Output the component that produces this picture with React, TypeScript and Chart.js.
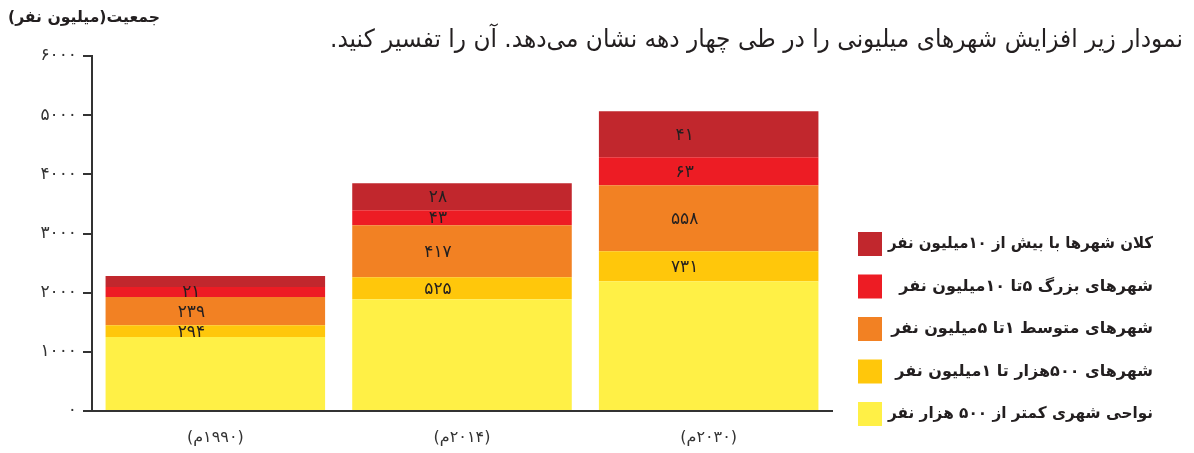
import { useEffect, useRef } from 'react';
import { Chart, registerables } from 'chart.js';

Chart.register(...registerables);

// ---- data ----
const years = ['1990', '2014', '2030'];
const seriesNames = [
  'نواحی شهری کمتر از ۵۰۰ هزار نفر',
  'شهرهای ۵۰۰هزار تا ۱میلیون نفر',
  'شهرهای متوسط ۱تا ۵میلیون نفر',
  'شهرهای بزرگ ۵تا ۱۰میلیون نفر',
  'کلان شهرها با بیش از ۱۰میلیون نفر',
];
const seriesColors = ['#FFF046', '#FFC70B', '#F28123', '#ED1C24', '#C1272D'];
// population (million) per size class
const popSmall = [1250, 1890, 2195];
const popMid = [200, 370, 505];
const popMedium = [475, 880, 1115];
const popLarge = [170, 255, 475];
const popMega = [185, 455, 775];
// number of cities shown inside bars
const countSmall: (number | null)[] = [null, null, null];
const countMid: (number | null)[] = [294, 525, 731];
const countMedium: (number | null)[] = [239, 417, 558];
const countLarge: (number | null)[] = [21, 43, 63];
const countMega: (number | null)[] = [null, 28, 41];
const yMax = 6000;
const yStep = 1000;
const titleText = 'نمودار زیر افزایش شهرهای میلیونی را در طی چهار دهه نشان می‌دهد. آن را تفسیر کنید.';
const yTitle = 'جمعیت(میلیون نفر)';

const faDigits = '۰۱۲۳۴۵۶۷۸۹';
const fa = (v: string | number) => String(v).replace(/\d/g, (d) => faDigits[Number(d)]);

const FONT = '"DejaVu Sans", sans-serif';

export default function App() {
  const ref = useRef<HTMLCanvasElement | null>(null);

  useEffect(() => {
    const canvas = ref.current;
    if (!canvas) return;
    const pops = [popSmall, popMid, popMedium, popLarge, popMega];
    const counts = [countSmall, countMid, countMedium, countLarge, countMega];

    const overlay = {
      id: 'overlay',
      afterDatasetsDraw(chart: any) {
        const ctx = chart.ctx;
        ctx.save();
        ctx.direction = 'rtl';
        ctx.fillStyle = '#231F20';
        ctx.font = `17px ${FONT}`;
        ctx.textAlign = 'center';
        ctx.textBaseline = 'middle';
        counts.forEach((arr, di) => {
          const meta = chart.getDatasetMeta(di);
          arr.forEach((c, i) => {
            if (c == null) return;
            const el: any = meta.data[i];
            ctx.fillText(fa(c), el.x - 24, (el.y + el.base) / 2 + 1);
          });
        });
        ctx.restore();
      },
      afterDraw(chart: any) {
        const ctx = chart.ctx;
        ctx.save();
        ctx.direction = 'rtl';
        ctx.textBaseline = 'middle';
        // title
        ctx.fillStyle = '#231F20';
        ctx.textAlign = 'right';
        ctx.font = `25px ${FONT}`;
        ctx.fillText(titleText, 1183, 40, 853);
        // y title
        ctx.font = `bold 16px ${FONT}`;
        ctx.fillText(yTitle, 160, 18, 152);
        // legend
        const n = seriesNames.length;
        for (let k = 0; k < n; k++) {
          const di = n - 1 - k;
          const top = 232 + k * 42.5;
          ctx.fillStyle = seriesColors[di];
          ctx.fillRect(858, top, 24, 24);
          ctx.fillStyle = '#231F20';
          ctx.font = `bold 16px ${FONT}`;
          ctx.textAlign = 'right';
          ctx.fillText(seriesNames[di], 1153, top + 12, 265);
        }
        ctx.restore();
      },
    };

    const chart = new Chart(canvas, {
      type: 'bar',
      data: {
        labels: years.map((y) => `(${fa(y)}م)`),
        datasets: seriesNames.map((name, i) => ({
          label: name,
          data: pops[i],
          backgroundColor: seriesColors[i],
          borderWidth: 0,
          barPercentage: 0.89,
          categoryPercentage: 1,
        })),
      },
      options: {
        responsive: false,
        animation: false,
        devicePixelRatio: 1,
        layout: { padding: { top: 56, right: 362, left: 0, bottom: 0 } },
        plugins: { legend: { display: false }, tooltip: { enabled: false }, title: { display: false } },
        scales: {
          x: {
            stacked: true,
            grid: { display: false, drawTicks: false },
            border: { display: true, color: '#333333', width: 2 },
            ticks: { color: '#333333', font: { family: FONT, size: 16 }, padding: 17 },
            afterFit: (s: any) => { s.height = 42; },
          },
          y: {
            stacked: true,
            min: 0,
            max: yMax,
            grid: { display: true, drawOnChartArea: false, drawTicks: true, tickLength: 9, color: '#333333', lineWidth: 2 },
            border: { display: true, color: '#333333', width: 2 },
            ticks: {
              stepSize: yStep,
              color: '#333333',
              font: { family: FONT, size: 17 },
              padding: 6,
              callback: (v: any) => fa(v),
            },
            afterFit: (s: any) => { s.width = 92; },
          },
        },
      },
      plugins: [overlay],
    });
    return () => chart.destroy();
  }, []);

  return (
    <div style={{ position: 'absolute', left: 0, top: 0, width: 1194, height: 453, background: '#fff' }}>
      <canvas ref={ref} width={1194} height={453} style={{ direction: 'rtl', display: 'block' }} />
    </div>
  );
}
